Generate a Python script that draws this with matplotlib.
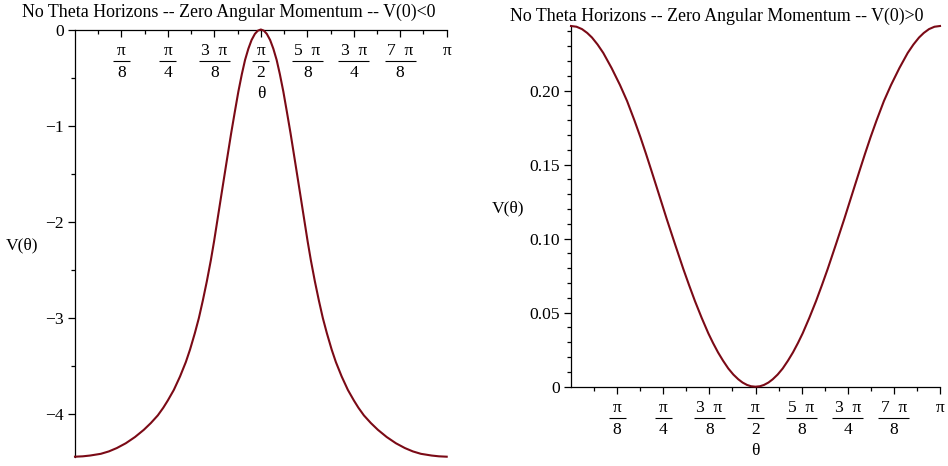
import numpy as np
import matplotlib
matplotlib.use("Agg")
import matplotlib.pyplot as plt
from matplotlib.ticker import FixedLocator, NullFormatter
from matplotlib.transforms import ScaledTranslation

plt.rcParams['font.family'] = ['Liberation Serif', 'DejaVu Serif']
plt.rcParams['axes.unicode_minus'] = True

# ---------------- data (theta given in units of pi) ----------------
left_title = "No Theta Horizons -- Zero Angular Momentum -- V(0)<0"
right_title = "No Theta Horizons -- Zero Angular Momentum -- V(0)>0"

left_theta_over_pi = [
    0.0000, 0.0210, 0.0404, 0.0694, 0.0910, 0.1125, 0.1367, 0.1615, 0.1852, 0.2040,
    0.2228, 0.2376, 0.2497, 0.2659, 0.2826, 0.2982, 0.3095, 0.3224, 0.3332, 0.3439,
    0.3547, 0.3655, 0.3741, 0.3800, 0.3934, 0.4069, 0.4201, 0.4300, 0.4395, 0.4489,
    0.4575, 0.4664, 0.4750, 0.4839, 0.4919, 0.5000,
    0.5081, 0.5161, 0.5250, 0.5336, 0.5425, 0.5511, 0.5605, 0.5700, 0.5799, 0.5931,
    0.6066, 0.6200, 0.6259, 0.6345, 0.6453, 0.6561, 0.6668, 0.6776, 0.6905, 0.7018,
    0.7174, 0.7341, 0.7503, 0.7624, 0.7772, 0.7960, 0.8148, 0.8385, 0.8633, 0.8875,
    0.9090, 0.9306, 0.9596, 0.9790, 1.0000]
left_V = [
    -4.445, -4.441, -4.433, -4.415, -4.390, -4.355, -4.305, -4.240, -4.165, -4.095,
    -4.015, -3.935, -3.860, -3.750, -3.610, -3.460, -3.330, -3.160, -3.003, -2.820,
    -2.620, -2.400, -2.205, -2.060, -1.730, -1.400, -1.080, -0.856, -0.646, -0.464,
    -0.317, -0.200, -0.110, -0.046, -0.012, 0.000,
    -0.012, -0.046, -0.110, -0.200, -0.317, -0.464, -0.646, -0.856, -1.080, -1.400,
    -1.730, -2.060, -2.205, -2.400, -2.620, -2.820, -3.003, -3.160, -3.330, -3.460,
    -3.610, -3.750, -3.860, -3.935, -4.015, -4.095, -4.165, -4.240, -4.305, -4.355,
    -4.390, -4.415, -4.433, -4.441, -4.445]

right_theta_over_pi = [
    0.0000, 0.0150, 0.0298, 0.0440, 0.0569, 0.0720, 0.0875, 0.1100, 0.1328, 0.1520,
    0.1721, 0.1880, 0.2033, 0.2170, 0.2304, 0.2450, 0.2593, 0.2820, 0.3043, 0.3200,
    0.3360, 0.3540, 0.3721, 0.3850, 0.3984, 0.4120, 0.4263, 0.4400, 0.4534, 0.4650,
    0.4770, 0.4880, 0.5000,
    0.5120, 0.5230, 0.5350, 0.5466, 0.5600, 0.5737, 0.5880, 0.6016, 0.6150, 0.6279,
    0.6460, 0.6640, 0.6800, 0.6957, 0.7180, 0.7407, 0.7550, 0.7696, 0.7830, 0.7967,
    0.8120, 0.8279, 0.8480, 0.8672, 0.8900, 0.9125, 0.9280, 0.9431, 0.9560, 0.9702,
    0.9850, 1.0000]
right_V = [
    0.2437, 0.2432, 0.2416, 0.2390, 0.2359, 0.2312, 0.2255, 0.2153, 0.2038, 0.1930,
    0.1798, 0.1687, 0.1573, 0.1467, 0.1362, 0.1247, 0.1134, 0.0962, 0.0796, 0.0686,
    0.0578, 0.0466, 0.0361, 0.0295, 0.0232, 0.0176, 0.0123, 0.0082, 0.0050, 0.0028,
    0.0012, 0.0003, 0.0000,
    0.0003, 0.0012, 0.0028, 0.0050, 0.0082, 0.0123, 0.0176, 0.0232, 0.0295, 0.0361,
    0.0466, 0.0578, 0.0686, 0.0796, 0.0962, 0.1134, 0.1247, 0.1362, 0.1467, 0.1573,
    0.1687, 0.1798, 0.1930, 0.2038, 0.2153, 0.2255, 0.2312, 0.2359, 0.2390, 0.2416,
    0.2432, 0.2437]

x_major_over_pi = [1/8, 2/8, 3/8, 4/8, 5/8, 6/8, 7/8, 1.0]
x_minor_over_pi = [1/16, 3/16, 5/16, 7/16, 9/16, 11/16, 13/16, 15/16]
x_tick_num = ['π', 'π', '3  π', 'π', '5  π', '3  π', '7  π', 'π']
x_tick_den = ['8', '4', '8', '2', '8', '4', '8', None]

left_yticks = [0, -1, -2, -3, -4]
left_yticklabels = ['0', '\u22121', '\u22122', '\u22123', '\u22124']
left_yminor = [-0.5, -1.5, -2.5, -3.5]
right_yticks = [0, 0.05, 0.10, 0.15, 0.20]
right_yticklabels = ['0', '0.05', '0.10', '0.15', '0.20']
right_yminor = [0.01, 0.02, 0.03, 0.04, 0.06, 0.07, 0.08, 0.09, 0.11, 0.12, 0.13, 0.14,
                0.16, 0.17, 0.18, 0.19, 0.21, 0.22, 0.23, 0.24]

line_color = '#7B0A16'
FS = 12.6

W, H = 948, 466
fig = plt.figure(figsize=(W / 100, H / 100), dpi=100)

axL = fig.add_axes([75 / W, (H - 456.7) / H, 371.7 / W, 427.2 / H])
axR = fig.add_axes([571 / W, (H - 386.7) / H, 369 / W, 360.7 / H])


def style(ax, ylim, yt, ytl, ymin):
    ax.set_xlim(0, np.pi)
    ax.set_ylim(*ylim)
    for s in ('top', 'right'):
        ax.spines[s].set_visible(False)
    ax.spines['bottom'].set_position(('data', 0))
    for s in ('bottom', 'left'):
        ax.spines[s].set_linewidth(0.9)
        ax.spines[s].set_color('black')
    ax.xaxis.set_major_locator(FixedLocator(np.array(x_major_over_pi) * np.pi))
    ax.xaxis.set_minor_locator(FixedLocator(np.array(x_minor_over_pi) * np.pi))
    ax.xaxis.set_major_formatter(NullFormatter())
    ax.yaxis.set_major_locator(FixedLocator(yt))
    ax.yaxis.set_minor_locator(FixedLocator(ymin))
    ax.set_yticklabels(ytl)
    ax.tick_params(axis='both', which='major', length=5, width=0.9, direction='out',
                   labelsize=FS, color='black')
    ax.tick_params(axis='both', which='minor', length=3, width=0.9, direction='out',
                   color='black')
    ax.tick_params(axis='y', which='major', pad=3)
    ax.set_facecolor('none')


def frac_labels(ax, axis_width_px):
    # stacked-fraction tick labels below the x axis line (offsets in pixels)
    num_off, bar_off, den_off = 21.5, 31, 43.5
    for xv, num, den in zip(x_major_over_pi, x_tick_num, x_tick_den):
        x = xv * np.pi
        ax.annotate(num, xy=(x, 0), xycoords='data', xytext=(0, -num_off * 0.72),
                    textcoords='offset points', ha='center', va='center', fontsize=FS,
                    annotation_clip=False)
        if den is None:
            continue
        ax.annotate(den, xy=(x, 0), xycoords='data', xytext=(0, -den_off * 0.72),
                    textcoords='offset points', ha='center', va='center', fontsize=FS,
                    annotation_clip=False)
        hw_px = 15.5 if len(num) > 1 else 8.5
        hw = hw_px * np.pi / axis_width_px
        tr = ax.transData + ScaledTranslation(0, -bar_off / 100, fig.dpi_scale_trans)
        ax.plot([x - hw, x + hw], [0, 0], color='black', lw=0.8, transform=tr,
                clip_on=False, solid_capstyle='butt')


style(axL, (-4.445, 0), left_yticks, left_yticklabels, left_yminor)
style(axR, (0, 0.2437), right_yticks, right_yticklabels, right_yminor)
frac_labels(axL, 371.7)
frac_labels(axR, 369)

axL.plot(np.array(left_theta_over_pi) * np.pi, left_V, color=line_color, lw=1.5,
         clip_on=False, zorder=3)
axR.plot(np.array(right_theta_over_pi) * np.pi, right_V, color=line_color, lw=1.5,
         clip_on=False, zorder=3)

for ax in (axL, axR):
    ax.set_xlabel('θ', fontsize=FS, va='center')
    ax.set_ylabel('V(θ)', fontsize=FS, rotation=0, ha='center', va='center')

axL.xaxis.set_label_coords(0.5, 1 - 64.5 / 427.2)
axR.xaxis.set_label_coords(0.5, -64 / 360.7)
axL.yaxis.set_label_coords((22 - 75) / 371.7, (456.7 - 245) / 427.2)
axR.yaxis.set_label_coords((508 - 571) / 369, (386.7 - 208.3) / 360.7)

fig.text(229 / W, 1 - 12 / H, left_title, ha='center', va='center', fontsize=12.9)
fig.text(717 / W, 1 - 16 / H, right_title, ha='center', va='center', fontsize=12.9)

fig.savefig('out.png', dpi=100)
